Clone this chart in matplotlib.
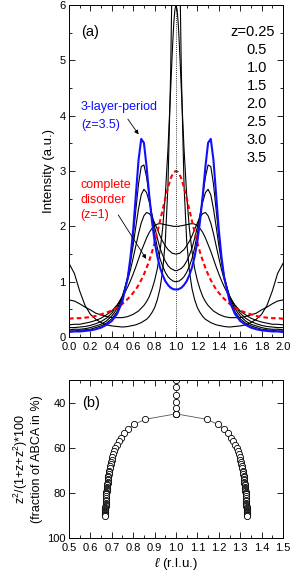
import matplotlib
matplotlib.use("Agg")
import matplotlib.pyplot as plt
import numpy as np

plt.rcParams["font.family"] = ["Liberation Sans", "DejaVu Sans"]
plt.rcParams["mathtext.fontset"] = "custom"
plt.rcParams["mathtext.rm"] = "Liberation Sans"
plt.rcParams["mathtext.it"] = "Liberation Sans:italic"

# ---- panel (a): intensity along the rod, one curve per z ----
l_vals = [0.0, 0.05, 0.1, 0.15, 0.2, 0.25, 0.3, 0.35, 0.4, 0.45,
          0.5, 0.55, 0.575, 0.6, 0.625, 0.65, 0.675, 0.7, 0.725, 0.75,
          0.775, 0.8, 0.825, 0.85, 0.875, 0.9, 0.925, 0.95, 0.96, 0.97,
          0.98, 0.99, 1.0, 1.01, 1.02, 1.03, 1.04, 1.05, 1.075, 1.1,
          1.125, 1.15, 1.175, 1.2, 1.225, 1.25, 1.275, 1.3, 1.325, 1.35,
          1.375, 1.4, 1.425, 1.45, 1.5, 1.55, 1.6, 1.65, 1.7, 1.75,
          1.8, 1.85, 1.9, 1.95, 2.0]

I_z025 = [1.33, 1.15, 0.83, 0.57, 0.41, 0.32, 0.26, 0.22, 0.20, 0.19,
          0.18, 0.19, 0.20, 0.21, 0.22, 0.24, 0.26, 0.29, 0.32, 0.37,
          0.44, 0.53, 0.67, 0.87, 1.19, 1.73, 2.74, 4.77, 6.08, 7.75,
          9.64, 11.31, 12.0, 11.31, 9.64, 7.75, 6.08, 4.77, 2.74, 1.73,
          1.19, 0.87, 0.67, 0.53, 0.44, 0.37, 0.32, 0.29, 0.26, 0.24,
          0.22, 0.21, 0.20, 0.19, 0.18, 0.19, 0.20, 0.22, 0.26, 0.32,
          0.41, 0.57, 0.83, 1.15, 1.33]
I_z05 = [0.67, 0.65, 0.60, 0.54, 0.49, 0.43, 0.40, 0.37, 0.35, 0.35,
         0.35, 0.37, 0.39, 0.41, 0.44, 0.47, 0.52, 0.57, 0.64, 0.73,
         0.86, 1.02, 1.23, 1.54, 1.96, 2.56, 3.40, 4.47, 4.92, 5.34,
         5.69, 5.92, 6.00, 5.92, 5.69, 5.34, 4.92, 4.47, 3.40, 2.56,
         1.96, 1.54, 1.23, 1.02, 0.86, 0.73, 0.64, 0.57, 0.52, 0.47,
         0.44, 0.41, 0.39, 0.37, 0.35, 0.35, 0.35, 0.37, 0.40, 0.43,
         0.49, 0.54, 0.60, 0.65, 0.67]
I_z1 = [0.33, 0.34, 0.34, 0.35, 0.36, 0.38, 0.41, 0.44, 0.48, 0.53,
        0.60, 0.69, 0.74, 0.80, 0.86, 0.94, 1.03, 1.13, 1.25, 1.38,
        1.53, 1.70, 1.89, 2.09, 2.30, 2.51, 2.70, 2.86, 2.91, 2.95,
        2.98, 2.99, 3.00, 2.99, 2.98, 2.95, 2.91, 2.86, 2.70, 2.51,
        2.30, 2.09, 1.89, 1.70, 1.53, 1.38, 1.25, 1.13, 1.03, 0.94,
        0.86, 0.80, 0.74, 0.69, 0.60, 0.53, 0.48, 0.44, 0.41, 0.38,
        0.36, 0.35, 0.34, 0.34, 0.33]
I_z15 = [0.22, 0.23, 0.23, 0.25, 0.27, 0.30, 0.34, 0.40, 0.47, 0.58,
         0.72, 0.91, 1.02, 1.14, 1.27, 1.41, 1.55, 1.67, 1.79, 1.89,
         1.96, 2.01, 2.04, 2.05, 2.04, 2.03, 2.02, 2.01, 2.01, 2.00,
         2.00, 2.00, 2.00, 2.00, 2.00, 2.00, 2.01, 2.01, 2.02, 2.03,
         2.04, 2.05, 2.04, 2.01, 1.96, 1.89, 1.79, 1.67, 1.55, 1.41,
         1.27, 1.14, 1.02, 0.91, 0.72, 0.58, 0.47, 0.40, 0.34, 0.30,
         0.27, 0.25, 0.23, 0.23, 0.22]
I_z2 = [0.17, 0.17, 0.18, 0.19, 0.21, 0.24, 0.28, 0.34, 0.43, 0.56,
        0.75, 1.04, 1.22, 1.43, 1.65, 1.87, 2.06, 2.19, 2.25, 2.23,
        2.17, 2.06, 1.95, 1.83, 1.73, 1.65, 1.58, 1.54, 1.52, 1.51,
        1.51, 1.50, 1.50, 1.50, 1.51, 1.51, 1.52, 1.54, 1.58, 1.65,
        1.73, 1.83, 1.95, 2.06, 2.17, 2.23, 2.25, 2.19, 2.06, 1.87,
        1.65, 1.43, 1.22, 1.04, 0.75, 0.56, 0.43, 0.34, 0.28, 0.24,
        0.21, 0.19, 0.18, 0.17, 0.17]
I_z25 = [0.13, 0.14, 0.14, 0.15, 0.17, 0.20, 0.23, 0.29, 0.38, 0.51,
         0.73, 1.09, 1.35, 1.66, 2.00, 2.32, 2.57, 2.67, 2.61, 2.44,
         2.22, 1.99, 1.79, 1.61, 1.48, 1.37, 1.29, 1.24, 1.23, 1.22,
         1.21, 1.20, 1.20, 1.20, 1.21, 1.22, 1.23, 1.24, 1.29, 1.37,
         1.48, 1.61, 1.79, 1.99, 2.22, 2.44, 2.61, 2.67, 2.57, 2.32,
         2.00, 1.66, 1.35, 1.09, 0.73, 0.51, 0.38, 0.29, 0.23, 0.20,
         0.17, 0.15, 0.14, 0.14, 0.13]
I_z3 = [0.11, 0.11, 0.12, 0.13, 0.14, 0.17, 0.20, 0.25, 0.33, 0.46,
        0.69, 1.10, 1.42, 1.83, 2.30, 2.77, 3.08, 3.11, 2.89, 2.54,
        2.18, 1.87, 1.62, 1.42, 1.28, 1.17, 1.09, 1.04, 1.03, 1.01,
        1.01, 1.00, 1.00, 1.00, 1.01, 1.01, 1.03, 1.04, 1.09, 1.17,
        1.28, 1.42, 1.62, 1.87, 2.18, 2.54, 2.89, 3.11, 3.08, 2.77,
        2.30, 1.83, 1.42, 1.10, 0.69, 0.46, 0.33, 0.25, 0.20, 0.17,
        0.14, 0.13, 0.12, 0.11, 0.11]
I_z35 = [0.09, 0.10, 0.10, 0.11, 0.12, 0.14, 0.17, 0.22, 0.29, 0.42,
         0.65, 1.08, 1.45, 1.94, 2.57, 3.20, 3.58, 3.51, 3.08, 2.56,
         2.10, 1.73, 1.46, 1.26, 1.12, 1.01, 0.94, 0.89, 0.88, 0.87,
         0.86, 0.86, 0.86, 0.86, 0.86, 0.87, 0.88, 0.89, 0.94, 1.01,
         1.12, 1.26, 1.46, 1.73, 2.10, 2.56, 3.08, 3.51, 3.58, 3.20,
         2.57, 1.94, 1.45, 1.08, 0.65, 0.42, 0.29, 0.22, 0.17, 0.14,
         0.12, 0.11, 0.10, 0.10, 0.09]

z_labels = ["z=0.25", "0.5", "1.0", "1.5", "2.0", "2.5", "3.0", "3.5"]

# ---- panel (b): peak position vs fraction of ABCA ----
vert_f = [26.2, 29.9, 33.3, 36.6, 39.6, 42.4, 45.0]
vert_l = [1.0, 1.0, 1.0, 1.0, 1.0, 1.0, 1.0]
branch_f = [47.4, 49.6, 51.7, 53.6, 55.5, 57.1, 58.7, 60.2, 61.6, 62.9,
            64.1, 65.3, 66.3, 67.4, 68.3, 69.2, 70.1, 70.9, 71.7, 72.4,
            73.1, 73.8, 74.4, 75.1, 75.6, 76.2, 76.7, 77.2, 77.7, 78.2,
            78.6, 79.1, 79.5, 79.9, 80.3, 80.6, 81.5, 82.3, 83.0, 83.7,
            84.3, 84.9, 85.5, 86.0, 86.4, 86.9, 87.3, 87.7, 88.0, 88.4,
            88.7, 89.0, 89.3, 89.6, 89.8, 90.1]
left_l = [0.857, 0.806, 0.777, 0.757, 0.743, 0.732, 0.724, 0.717, 0.712, 0.707,
          0.703, 0.700, 0.697, 0.694, 0.692, 0.690, 0.688, 0.687, 0.686, 0.684,
          0.683, 0.682, 0.681, 0.681, 0.680, 0.679, 0.678, 0.678, 0.677, 0.677,
          0.676, 0.676, 0.675, 0.675, 0.675, 0.674, 0.674, 0.673, 0.672, 0.672,
          0.672, 0.671, 0.671, 0.671, 0.670, 0.670, 0.670, 0.670, 0.669, 0.669,
          0.669, 0.669, 0.669, 0.669, 0.669, 0.669]
right_l = [1.143, 1.194, 1.223, 1.243, 1.257, 1.268, 1.276, 1.283, 1.288, 1.293,
           1.297, 1.300, 1.303, 1.306, 1.308, 1.310, 1.312, 1.313, 1.314, 1.316,
           1.317, 1.318, 1.319, 1.319, 1.320, 1.321, 1.322, 1.322, 1.323, 1.323,
           1.324, 1.324, 1.325, 1.325, 1.325, 1.326, 1.326, 1.327, 1.328, 1.328,
           1.328, 1.329, 1.329, 1.329, 1.330, 1.330, 1.330, 1.330, 1.331, 1.331,
           1.331, 1.331, 1.331, 1.331, 1.331, 1.331]

fig = plt.figure(figsize=(2.91, 5.76), dpi=100)
ax = fig.add_axes([69/291, 1 - 337/576, 214/291, 332/576])
bx = fig.add_axes([69/291, 1 - 538/576, 214/291, 158/576])


def style_ticks(a):
    a.tick_params(which="both", direction="in", top=True, right=True,
                  labelsize=8, width=0.6)
    a.tick_params(axis="x", pad=3.5)
    a.tick_params(axis="y", pad=2.5)
    a.tick_params(which="major", length=4)
    a.tick_params(which="minor", length=2.5)
    for s in a.spines.values():
        s.set_linewidth(0.7)


# black curves
for I in [I_z025, I_z05, I_z15, I_z2, I_z25, I_z3]:
    ax.plot(l_vals, I, color="black", lw=0.8)
ax.plot(l_vals, I_z1, color="red", lw=1.5, ls=(0, (2.2, 1.5)))
ax.plot(l_vals, I_z35, color="#1010ff", lw=1.5)
ax.axvline(1.0, color="black", lw=0.6, ls=(0, (1, 1.5)))

ax.set_xlim(0, 2)
ax.set_ylim(0, 6)
ax.set_xticks(np.arange(0, 2.01, 0.2))
ax.set_xticks(np.arange(0, 2.01, 0.1), minor=True)
ax.set_yticks(range(7))
ax.set_yticks(np.arange(0, 6.01, 0.5), minor=True)
ax.set_xticklabels([f"{v:.1f}" for v in np.arange(0, 2.01, 0.2)])
style_ticks(ax)
ax.set_ylabel("Intensity (a.u.)", fontsize=9.5, labelpad=3)

ax.text(0.11, 5.52, "(a)", fontsize=10.5, va="center", ha="left")
ax.text(1.505, 5.52, z_labels[0], fontsize=10.5, va="center", ha="left")
for i, lab in enumerate(z_labels[1:]):
    ax.text(1.661, 5.52 - 0.327 * (i + 1), lab, fontsize=10.5,
            va="center", ha="left")

ax.text(0.112, 4.16, "3-layer-period", color="#1010ff", fontsize=9,
        va="center", ha="left")
ax.text(0.112, 3.83, "(z=3.5)", color="#1010ff", fontsize=9,
        va="center", ha="left")
ax.annotate("", xy=(0.665, 3.62), xytext=(0.535, 3.98),
            arrowprops=dict(arrowstyle="-|>", color="black", lw=0.6,
                            mutation_scale=6))

ax.text(0.103, 2.75, "complete", color="red", fontsize=9,
        va="center", ha="left")
ax.text(0.103, 2.48, "disorder", color="red", fontsize=9,
        va="center", ha="left")
ax.text(0.103, 2.2, "(z=1)", color="red", fontsize=9,
        va="center", ha="left")
ax.annotate("", xy=(0.735, 1.37), xytext=(0.446, 2.25),
            arrowprops=dict(arrowstyle="-|>", color="black", lw=0.6,
                            mutation_scale=6))

# panel (b)
mk = dict(marker="o", ms=4.5, mfc="white", mec="black", mew=0.6,
          color="#555555", lw=0.6)
bx.plot([1.0] + left_l, [45.0] + branch_f, **mk)
bx.plot([1.0] + right_l, [45.0] + branch_f, **mk)
bx.plot(vert_l, vert_f, **mk)
bx.set_xlim(0.5, 1.5)
bx.set_ylim(100, 30)
bx.set_xticks(np.arange(0.5, 1.501, 0.1))
bx.set_xticks(np.arange(0.5, 1.501, 0.05), minor=True)
bx.set_xticklabels([f"{v:.1f}" for v in np.arange(0.5, 1.501, 0.1)])
bx.set_yticks([40, 60, 80, 100])
style_ticks(bx)
bx.tick_params(axis="y", which="minor", left=False, right=False)
bx.text(0.56, 40, "(b)", fontsize=10.5, va="center", ha="left")
bx.set_xlabel(r"$\ell$ (r.l.u.)", fontsize=9.5, labelpad=2)
bx.set_ylabel("z$^2$/(1+z+z$^2$)*100\n(fraction of ABCA in %)",
              fontsize=9, labelpad=3, linespacing=1.1)

fig.savefig("out.png", dpi=100)
